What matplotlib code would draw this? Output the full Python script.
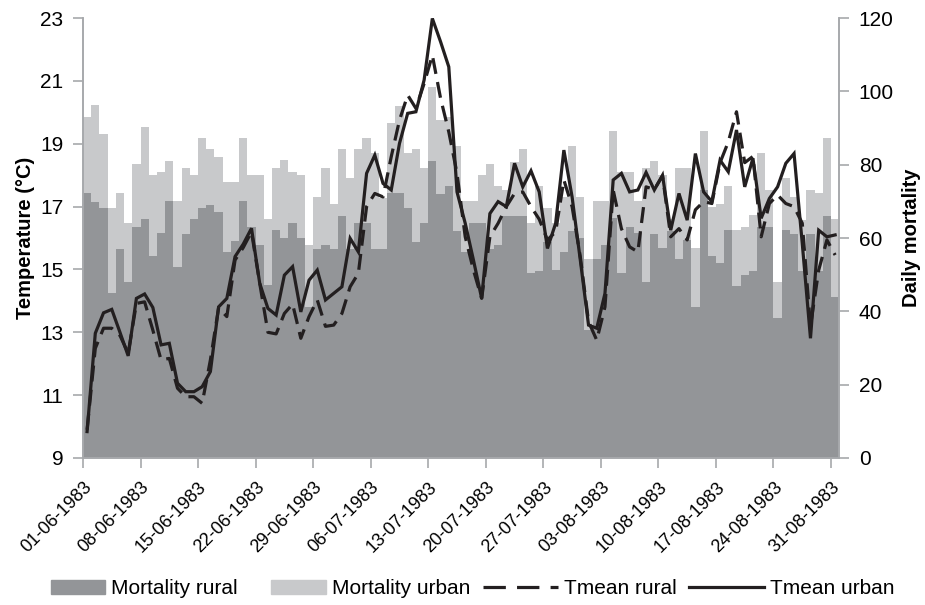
import matplotlib
matplotlib.use("Agg")
import matplotlib.pyplot as plt
from matplotlib.patches import Patch, Rectangle
from matplotlib.lines import Line2D
from matplotlib.legend_handler import HandlerPatch

plt.rcParams['font.family'] = ['Liberation Sans', 'DejaVu Sans']

# daily values 01-06-1983 .. 31-08-1983 (92 days)
mort_urban = [93.1, 96.3, 88.3, 68.3, 72.2, 64.2, 80.2, 90.2, 77.2, 78.1,
              81.1, 70.1, 79.2, 77.2, 87.2, 84.2, 82.2, 75.2, 75.2, 87.2,
              77.2, 77.2, 65.2, 79.2, 81.3, 78.1, 77.2, 58.1, 71.3, 79.2,
              69.2, 84.2, 76.3, 84.2, 87.2, 83.1, 71.0, 91.3, 96.1, 83.1,
              84.2, 79.2, 101.1, 92.2, 93.1, 85.1, 70.1, 70.1, 77.2, 80.1,
              74.2, 73.0, 80.8, 84.2, 64.2, 74.2, 68.1, 64.0, 71.3, 85.1,
              71.3, 54.2, 70.1, 70.1, 89.2, 78.1, 78.1, 70.1, 79.2, 81.1,
              77.2, 65.1, 79.2, 79.2, 57.2, 89.2, 68.5, 69.2, 74.2, 62.2,
              63.1, 66.3, 83.1, 73.1, 48.1, 76.3, 71.3, 65.0, 73.1, 72.4,
              87.2, 65.1]
mort_rural = [72.2, 69.9, 68.3, 45.1, 57.0, 48.1, 63.1, 65.2, 55.2, 61.3,
              70.1, 52.2, 61.0, 65.2, 68.1, 69.0, 67.2, 56.3, 59.2, 70.1,
              63.1, 58.1, 47.2, 62.2, 59.9, 64.2, 59.9, 41.3, 56.9, 58.1,
              56.9, 66.0, 56.9, 64.0, 64.0, 57.0, 57.0, 72.4, 72.4, 68.1,
              59.0, 64.0, 81.0, 72.0, 74.2, 62.0, 56.3, 64.0, 64.0, 57.0,
              58.0, 66.0, 66.0, 66.0, 50.4, 51.0, 59.0, 51.3, 56.3, 62.0,
              60.0, 34.9, 54.2, 58.1, 65.4, 50.4, 63.1, 61.3, 48.1, 61.2,
              57.2, 62.0, 54.2, 59.5, 41.3, 73.1, 55.1, 53.1, 62.2, 46.9,
              49.9, 51.0, 63.1, 63.1, 38.1, 62.2, 61.1, 51.0, 61.1, 51.0,
              66.0, 44.0]
tmean_urban = [9.84, 12.97, 13.62, 13.73, 13.0, 12.25, 14.08, 14.22, 13.79, 12.6,
               12.65, 11.38, 11.11, 11.11, 11.27, 11.75, 13.81, 14.08, 15.41, 15.81,
               16.31, 14.56, 13.76, 13.55, 14.82, 15.09, 13.65, 14.66, 14.98, 14.03,
               14.24, 14.45, 15.99, 15.56, 18.06, 18.64, 17.74, 17.53, 19.01, 19.97,
               20.02, 21.03, 22.99, 22.25, 21.45, 17.47, 16.47, 15.3, 14.08, 16.78,
               17.16, 17.0, 18.38, 17.63, 18.14, 17.47, 15.67, 16.47, 18.8, 17.31,
               15.3, 13.23, 13.13, 14.24, 17.85, 18.06, 17.47, 17.53, 18.09, 17.53,
               18.0, 16.25, 17.42, 16.57, 18.69, 17.47, 17.16, 18.48, 18.11, 19.44,
               17.63, 18.54, 16.63, 17.26, 17.63, 18.38, 18.69, 15.83, 12.81, 16.25,
               16.04, 16.1]
tmean_rural = [9.9, 12.49, 13.13, 13.13, 12.9, 12.33, 13.92, 13.97, 13.07, 12.12,
               12.17, 11.22, 10.95, 10.95, 10.74, 12.12, 13.78, 13.5, 15.3, 15.7,
               16.2, 14.56, 13.0, 12.95, 13.6, 13.9, 12.81, 13.5, 14.03, 13.19,
               13.23, 13.6, 14.45, 14.88, 17.0, 17.42, 17.31, 18.59, 19.75, 20.55,
               20.13, 20.92, 21.82, 20.45, 19.38, 18.06, 16.04, 14.98, 14.08, 16.04,
               16.47, 17.0, 17.42, 17.47, 17.0, 16.6, 15.94, 16.2, 17.85, 17.0,
               15.4, 13.34, 12.75, 13.81, 17.53, 16.3, 15.72, 15.56, 17.63, 17.55,
               17.98, 16.04, 16.3, 15.94, 16.9, 17.16, 17.1, 18.4, 19.06, 20.02,
               18.4, 18.6, 16.04, 17.1, 17.37, 17.1, 17.0, 16.47, 13.2, 14.98,
               15.94, 15.46]
tick_labels = ['01-06-1983', '08-06-1983', '15-06-1983', '22-06-1983', '29-06-1983',
               '06-07-1983', '13-07-1983', '20-07-1983', '27-07-1983', '03-08-1983',
               '10-08-1983', '17-08-1983', '24-08-1983', '31-08-1983']

dark = '#939598'
light = '#c8c9cb'
axcol = '#a7a9ac'
ink = '#231f20'

n = len(mort_urban)
days = list(range(n))
mid = [d + 0.5 for d in days]

fig = plt.figure(figsize=(9.25, 6.05), dpi=100)
ax = fig.add_axes([0.0897, 0.243, 0.8176, 0.727])
ax2 = ax.twinx()

# bars on the right (mortality) axis, lines on the left (temperature) axis on top
ax2.bar(days, mort_urban, width=1.0, align='edge', color=light, linewidth=0)
ax2.bar(days, mort_rural, width=1.0, align='edge', color=dark, linewidth=0)
ax.set_zorder(ax2.get_zorder() + 1)
ax.patch.set_visible(False)

ax.plot(mid, tmean_rural, color=ink, lw=2.3, dashes=(5, 2.6), solid_joinstyle='miter')
ax.plot(mid, tmean_urban, color=ink, lw=2.3, solid_joinstyle='miter')

ax.set_xlim(0, n)
ax.set_ylim(9, 23)
ax.set_yticks(range(9, 24, 2))
ax2.set_ylim(0, 120)
ax2.set_yticks(range(0, 121, 20))
ax.set_xticks(range(0, n, 7))
ax.set_xticklabels(tick_labels, rotation=45, ha='right', va='top', rotation_mode='anchor')

for a in (ax, ax2):
    a.spines['top'].set_visible(False)
    for s in ('left', 'right', 'bottom'):
        a.spines[s].set_color(axcol)
        a.spines[s].set_linewidth(1.2)
    a.tick_params(colors=axcol, labelcolor='black', length=7, width=1.2)
ax.tick_params(axis='x', labelsize=13, pad=8)
ax.tick_params(axis='y', labelsize=15, pad=7)
ax2.tick_params(axis='y', labelsize=15, pad=7)

ax.set_ylabel('Temperature (°C)', fontsize=14.5, fontweight='bold', labelpad=4)
ax2.set_ylabel('Daily mortality', fontsize=14.5, fontweight='bold', labelpad=6)


def small_patch(legend, orig_handle, xdescent, ydescent, width, height, fontsize):
    w = 39  # points
    return Rectangle((-xdescent + width - w, -ydescent), w, height)


handles = [Patch(color=dark), Patch(color=light),
           Line2D([], [], color=ink, lw=2.3, dashes=(7, 3.5)),
           Line2D([], [], color=ink, lw=2.3)]
labels = ['Mortality rural', 'Mortality urban', 'Tmean rural', 'Tmean urban']
fig.legend(handles, labels, loc='lower center', bbox_to_anchor=(0.5, -0.02), ncol=4,
           frameon=False, fontsize=15, handlelength=3.6, handletextpad=0.3,
           columnspacing=0.6, handler_map={Patch: HandlerPatch(patch_func=small_patch)})

fig.savefig('out.png', dpi=100)
